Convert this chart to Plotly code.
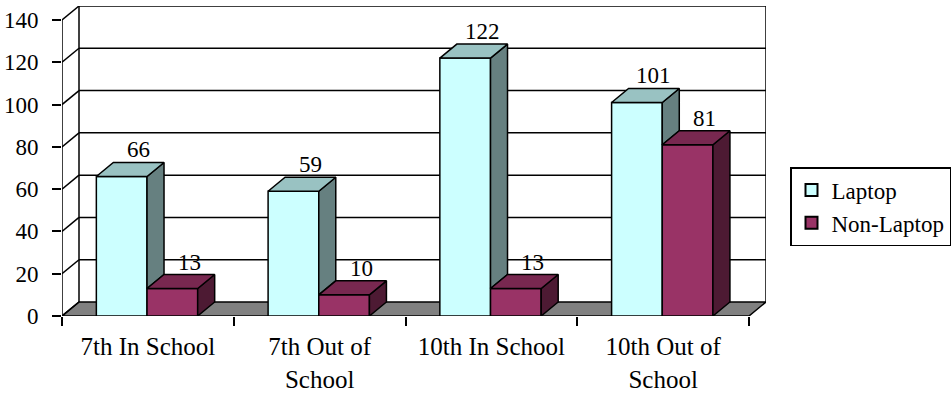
import plotly.graph_objects as go

# ---- data ----
categories = ["7th In School", "7th Out of<br>School", "10th In School", "10th Out of<br>School"]
laptop = [66, 59, 122, 101]
non_laptop = [13, 10, 13, 81]
y_ticks = [0, 20, 40, 60, 80, 100, 120, 140]

# ---- geometry (pixels) ----
W, H = 951, 393
PLOT_L, PLOT_T = 62, 6
FRONT_W = 687          # front plane width for the 4 categories
FRONT_H = 296          # front plane height for 0..140
DEPTH_X, DEPTH_Y = 17, 14
PLOT_W = FRONT_W + DEPTH_X
PLOT_H = FRONT_H + DEPTH_Y

n = len(categories)
ymax = y_ticks[-1]
px_x = FRONT_W / n
px_y = FRONT_H / ymax
dx = DEPTH_X / px_x    # depth offset in x data units
dy = DEPTH_Y / px_y    # depth offset in y data units
x0, x1 = -0.5, n - 0.5

FONT = "Liberation Serif, Times New Roman, serif"
FS_NUM = 23     # numbers (axis ticks, value labels)
FS_TXT = 25     # category labels
FS_LEG = 23     # legend

LAP_FRONT, LAP_TOP, LAP_SIDE = "#CCFFFF", "#99C2C2", "#668080"
NON_FRONT, NON_TOP, NON_SIDE = "#993366", "#782850", "#4D1A33"
FLOOR = "#808080"

BAR_W = 0.295
OFFSETS = [-0.30, -0.005]

fig = go.Figure()

# front faces (also give the legend swatches)
for name, vals, off, col in [("Laptop", laptop, OFFSETS[0], LAP_FRONT),
                             ("Non-Laptop", non_laptop, OFFSETS[1], NON_FRONT)]:
    fig.add_trace(go.Bar(
        x=list(range(n)), y=vals, name=name, width=BAR_W, offset=off,
        marker=dict(color=col, line=dict(color="black", width=1.5)),
        hoverinfo="skip",
    ))

# top and side faces of the boxes
def face(xs, ys, col):
    fig.add_trace(go.Scatter(
        x=xs, y=ys, fill="toself", fillcolor=col, mode="lines",
        line=dict(color="black", width=1.5), showlegend=False, hoverinfo="skip",
    ))

for i in range(n):
    series = [(laptop[i], OFFSETS[0], LAP_TOP, LAP_SIDE),
              (non_laptop[i], OFFSETS[1], NON_TOP, NON_SIDE)]
    for k, (v, off, ctop, cside) in enumerate(series):
        a = i + off
        b = a + BAR_W
        # side face: hidden part below the neighbouring box on the right
        base = 0
        if k + 1 < len(series):
            base = min(series[k + 1][0], v)
        face([b, b + dx, b + dx, b, b], [base, base + dy, v + dy, v, base], cside)
        face([a, b, b + dx, a + dx, a], [v, v, v + dy, v + dy, v], ctop)
        fig.add_annotation(
            x=(a + b) / 2 + dx, y=v + dy, text=str(v), showarrow=False,
            yanchor="bottom", yshift=-2, font=dict(family=FONT, size=FS_NUM, color="black"),
        )

# walls, floor and grid
shapes = []
line = dict(color="black", width=1.5)
# floor
shapes.append(dict(type="path", layer="below",
                   path=f"M {x0},0 L {x1},0 L {x1 + dx},{dy} L {x0 + dx},{dy} Z",
                   fillcolor=FLOOR, line=line))
for t in y_ticks[1:]:
    # back wall gridline
    shapes.append(dict(type="line", layer="below", x0=x0 + dx, x1=x1 + dx, y0=t + dy, y1=t + dy, line=line))
for t in y_ticks:
    # side wall diagonal
    shapes.append(dict(type="line", layer="below", x0=x0, x1=x0 + dx, y0=t, y1=t + dy, line=line))
# wall edges
shapes.append(dict(type="line", layer="below", x0=x0, x1=x0, y0=0, y1=ymax, line=line))
shapes.append(dict(type="line", layer="below", x0=x0 + dx, x1=x0 + dx, y0=dy, y1=ymax + dy, line=line))
shapes.append(dict(type="line", layer="below", x0=x1 + dx, x1=x1 + dx, y0=dy, y1=ymax + dy, line=line))

fig.update_layout(
    width=W, height=H,
    margin=dict(l=PLOT_L, r=W - PLOT_L - PLOT_W, t=PLOT_T, b=H - PLOT_T - PLOT_H,
                pad=0, autoexpand=False),
    paper_bgcolor="white", plot_bgcolor="white",
    barmode="overlay",
    shapes=shapes,
    showlegend=True,
    legend=dict(
        xref="container", yref="container",
        x=790 / W, y=1 - 167 / H,
        xanchor="left", yanchor="top",
        bordercolor="black", borderwidth=1.5, bgcolor="white",
        font=dict(family=FONT, size=FS_LEG, color="black"),
        tracegroupgap=0, itemsizing="constant", itemwidth=30,
    ),
    font=dict(family=FONT, size=FS_TXT, color="black"),
)

fig.update_xaxes(
    range=[x0, x0 + PLOT_W / px_x], tickmode="array",
    tickvals=list(range(n)), ticktext=categories, ticks="",
    ticklabelstandoff=13,
    showgrid=False, zeroline=False, showline=False,
    minor=dict(tick0=x0, dtick=1, ticks="outside", ticklen=9, tickwidth=1.5, tickcolor="black", showgrid=False),
    tickfont=dict(family=FONT, size=FS_TXT, color="black"),
    fixedrange=True,
)
fig.update_yaxes(
    range=[0, PLOT_H / px_y], tickmode="array", tickvals=y_ticks,
    ticks="outside", ticklen=9, tickwidth=1.5, tickcolor="black",
    ticklabelstandoff=9,
    showgrid=False, zeroline=False, showline=False,
    tickfont=dict(family=FONT, size=FS_NUM, color="black"),
    fixedrange=True,
)

fig.write_html("out.html")
